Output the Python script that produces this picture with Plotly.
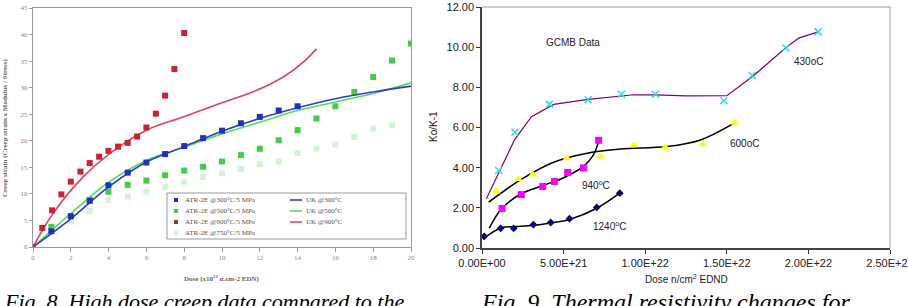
import plotly.graph_objects as go

W, H = 908, 306
def px(x): return x / W
def py(y): return 1 - y / H

# ---------------- Fig. 8 data (dose x10^21, creep strain) ----------------
red_x = [0, 0.49, 1.01, 1.5, 2.0, 2.51, 3.0, 3.5, 3.99, 4.5, 5.01, 5.51, 6.0, 6.5, 6.99, 7.48, 8.0]
red_y = [0, 3.6, 6.9, 9.9, 12.3, 14.2, 15.8, 17.0, 18.1, 18.9, 19.6, 20.8, 22.5, 25.1, 28.5, 33.5, 40.3]
blue_x = [0, 0.97, 2.0, 3.0, 3.99, 5.01, 6.0, 6.99, 8.0, 9.0, 10.0, 11.0, 12.0, 13.0, 14.0]
blue_y = [0, 2.95, 5.8, 8.7, 11.6, 14.0, 15.9, 17.5, 19.0, 20.5, 21.9, 23.3, 24.5, 25.7, 26.5]
green_x = [0, 0.97, 3.0, 3.99, 5.01, 6.0, 6.99, 8.0, 9.0, 10.0, 11.0, 12.0, 13.0, 14.0, 15.0, 16.0, 17.0, 18.0, 19.0, 20.0]
green_y = [0, 3.8, 8.9, 10.4, 11.7, 12.5, 13.5, 14.4, 15.1, 16.1, 17.3, 18.5, 20.1, 22.0, 24.2, 26.5, 29.2, 32.0, 35.1, 38.3]
pale_x = [0, 2.0, 3.0, 3.99, 5.01, 6.0, 6.99, 8.0, 9.0, 10.0, 11.0, 12.0, 13.0, 14.0, 15.0, 16.0, 17.0, 18.0, 19.0]
pale_y = [0, 4.8, 6.8, 8.8, 9.5, 10.4, 11.3, 12.2, 13.2, 13.9, 14.7, 15.6, 16.1, 17.7, 18.5, 19.3, 20.7, 22.3, 22.9]
uk900_x = [0, 1.06, 2.65, 4.06, 6.0, 7.94, 9.88, 11.83, 13.24, 14.3, 15.0]
uk900_y = [0, 6.3, 13.2, 17.6, 22.0, 24.5, 27.0, 29.5, 32.0, 34.8, 37.3]
uk300_x = [0, 2, 4, 6, 8, 10, 12, 14, 16, 18, 20]
uk300_y = [0, 5.3, 11.3, 16.0, 18.9, 21.8, 24.2, 26.2, 27.9, 29.2, 30.3]
uk500_x = [0, 2, 4, 6, 8, 10, 12, 14, 16, 18, 20]
uk500_y = [0, 6.3, 12.2, 16.3, 18.8, 21.3, 23.5, 25.7, 27.3, 28.9, 30.9]
f8_xticks = list(range(0, 21, 2))
f8_yticks = list(range(0, 46, 5))

# ---------------- Fig. 9 data (dose n/cm2, Ko/K-1) ----------------
c430_x = [1.02e21, 2.02e21, 4.13e21, 6.50e21, 8.54e21, 1.063e22, 1.482e22, 1.656e22, 1.862e22, 2.06e22]
c430_y = [3.86, 5.76, 7.15, 7.38, 7.66, 7.66, 7.33, 8.59, 9.96, 10.76]
l430_x = [0.27e21, 2.0e21, 3.03e21, 4.4e21, 6.5e21, 8.5e21, 9.3e21, 1.06e22, 1.25e22, 1.5e22, 1.66e22, 1.78e22, 1.86e22, 1.94e22, 2.06e22]
l430_y = [2.45, 5.4, 6.54, 7.15, 7.40, 7.58, 7.63, 7.62, 7.57, 7.58, 8.55, 9.4, 9.96, 10.45, 10.76]
c600_x = [0.88e21, 2.23e21, 3.11e21, 5.21e21, 7.28e21, 9.32e21, 1.122e22, 1.353e22, 1.55e22]
c600_y = [2.81, 3.44, 3.66, 4.47, 4.55, 5.11, 5.02, 5.18, 6.24]
l600_x = [0.41e21, 2.35e21, 4.39e21, 6.44e21, 8.48e21, 1.134e22, 1.339e22, 1.55e22]
l600_y = [2.28, 3.39, 4.27, 4.72, 4.93, 5.05, 5.38, 6.24]
c940_x = [1.23e21, 2.41e21, 3.72e21, 4.44e21, 5.25e21, 6.21e21, 7.15e21]
c940_y = [1.97, 2.66, 3.06, 3.31, 3.76, 3.99, 5.36]
l940_x = [0.45e21, 1.2e21, 2.4e21, 3.7e21, 5.0e21, 6.2e21, 6.8e21, 7.15e21]
l940_y = [0.99, 1.95, 2.7, 3.1, 3.5, 4.05, 4.6, 5.3]
c1240_x = [0.14e21, 1.14e21, 1.94e21, 3.15e21, 4.21e21, 5.36e21, 7.03e21, 8.44e21]
c1240_y = [0.58, 0.98, 0.98, 1.16, 1.27, 1.46, 2.02, 2.73]
l1240_x = [0.06e21, 1.14e21, 1.94e21, 3.15e21, 4.21e21, 5.36e21, 7.03e21, 8.44e21]
l1240_y = [0.45, 1.0, 1.06, 1.13, 1.25, 1.42, 1.98, 2.73]
f9_xticks = [0, 5e21, 1e22, 1.5e22, 2e22, 2.5e22]
f9_yticks = [0, 2, 4, 6, 8, 10, 12]

fig = go.Figure()

# ----- Fig 8 traces -----
def sq(x, y, c):
    fig.add_trace(go.Scatter(x=x, y=y, mode='markers', xaxis='x', yaxis='y', showlegend=False,
                             marker=dict(symbol='square', size=6, color=c)))
def ln(x, y, c, ax='x', ay='y', w=1.6, shape='spline'):
    fig.add_trace(go.Scatter(x=x, y=y, mode='lines', xaxis=ax, yaxis=ay, showlegend=False,
                             line=dict(color=c, width=w, shape=shape)))

sq(pale_x, pale_y, '#d4f2d4')
sq(green_x, green_y, '#44cc44')
ln(uk500_x, uk500_y, '#55dd55')
ln(uk300_x, uk300_y, '#2a3fcc')
ln(uk900_x, uk900_y, '#dd4466')
sq(blue_x, blue_y, '#1f2fbf')
sq(red_x, red_y, '#cc2233')

# ----- Fig 9 traces -----
ln(l430_x, l430_y, '#800080', 'x2', 'y2', 1.2, 'linear')
ln(l600_x, l600_y, '#000000', 'x2', 'y2', 1.5)
ln(l940_x, l940_y, '#000000', 'x2', 'y2', 1.5)
ln(l1240_x, l1240_y, '#000000', 'x2', 'y2', 1.5)
fig.add_trace(go.Scatter(x=c430_x, y=c430_y, mode='markers', xaxis='x2', yaxis='y2', showlegend=False,
                         marker=dict(symbol='x-thin', size=7, line=dict(color='#22ddee', width=1.5))))
fig.add_trace(go.Scatter(x=c600_x, y=c600_y, mode='markers', xaxis='x2', yaxis='y2', showlegend=False,
                         marker=dict(symbol='triangle-up', size=8, color='#ffff00')))
fig.add_trace(go.Scatter(x=c940_x, y=c940_y, mode='markers', xaxis='x2', yaxis='y2', showlegend=False,
                         marker=dict(symbol='square', size=7, color='#ff00ff')))
fig.add_trace(go.Scatter(x=c1240_x, y=c1240_y, mode='markers', xaxis='x2', yaxis='y2', showlegend=False,
                         marker=dict(symbol='diamond', size=6, color='#000080')))

serif = 'Liberation Serif'
sans = 'Liberation Sans'
gray = '#999999'

fig.update_layout(
    width=W, height=H, margin=dict(l=0, r=0, t=0, b=0, autoexpand=False),
    paper_bgcolor='white', plot_bgcolor='white', showlegend=False,
    xaxis=dict(domain=[px(33), px(411)], range=[0, 20], tickvals=f8_xticks, automargin=False,
               ticks='outside', ticklen=4, tickcolor=gray, showline=True, linecolor=gray, mirror=True,
               showgrid=False, zeroline=False, tickfont=dict(family=serif, size=7, color='#888')),
    yaxis=dict(domain=[py(247), py(8)], range=[0, 45], tickvals=f8_yticks, automargin=False,
               ticks='outside', ticklen=3, tickcolor=gray, showline=True, linecolor=gray, mirror=True,
               showgrid=False, zeroline=False, tickfont=dict(family=serif, size=7, color='#888')),
    xaxis2=dict(domain=[px(482), px(890)], range=[0, 2.5e22], tickvals=f9_xticks, automargin=False,
                ticktext=[f"{v:.2E}" for v in f9_xticks], anchor='y2', ticklabeloverflow='allow',
                ticks='outside', ticklen=4, tickcolor='#333', showline=True, linecolor='#444', linewidth=1.5,
                showgrid=False, zeroline=False, tickfont=dict(family=sans, size=11, color='#222')),
    yaxis2=dict(domain=[py(248), py(7)], range=[0, 12], tickvals=f9_yticks, tickformat='.2f', anchor='x2',
                ticklabeloverflow='allow', automargin=False,
                ticks='outside', ticklen=4, tickcolor='#333', showline=True, linecolor='#444', linewidth=1.5,
                showgrid=False, zeroline=False, tickfont=dict(family=sans, size=11, color='#222')),
)

shapes = []
# Fig 9 gray frame (top & right)
shapes.append(dict(type='line', xref='paper', yref='paper', x0=px(482), x1=px(890), y0=py(7), y1=py(7),
                   line=dict(color='#999', width=1)))
shapes.append(dict(type='line', xref='paper', yref='paper', x0=px(890), x1=px(890), y0=py(7), y1=py(248),
                   line=dict(color='#999', width=1)))
# Fig 8 legend box
shapes.append(dict(type='rect', xref='paper', yref='paper', x0=px(167), x1=px(406), y0=py(239), y1=py(193),
                   line=dict(color='#999', width=1), fillcolor='white', layer='below'))

ann = []
leg_markers = [('#1f2fbf', 'ATR-2E @300°C/5 MPa'), ('#44cc44', 'ATR-2E @500°C/5 MPa'),
               ('#cc2233', 'ATR-2E @900°C/5 MPa'), ('#d4f2d4', 'ATR-2E @750°C/5 MPa')]
leg_lines = [('#2a3fcc', 'UK @300°C'), ('#55dd55', 'UK @500°C'), ('#dd4466', 'UK @900°C')]
rows = [200, 211, 222, 233]
for (c, t), r in zip(leg_markers, rows):
    shapes.append(dict(type='rect', xref='paper', yref='paper', x0=px(174), x1=px(178), y0=py(r + 2), y1=py(r - 2),
                       fillcolor=c, line=dict(width=0)))
    ann.append(dict(xref='paper', yref='paper', x=px(183), y=py(r), xanchor='left', yanchor='middle',
                    text=t, showarrow=False, font=dict(family=serif, size=7, color='#555')))
for (c, t), r in zip(leg_lines, rows):
    shapes.append(dict(type='line', xref='paper', yref='paper', x0=px(290), x1=px(302), y0=py(r), y1=py(r),
                       line=dict(color=c, width=1.6)))
    ann.append(dict(xref='paper', yref='paper', x=px(304), y=py(r), xanchor='left', yanchor='middle',
                    text=t, showarrow=False, font=dict(family=serif, size=7, color='#555')))

# Fig 8 axis titles
ann.append(dict(xref='paper', yref='paper', x=px(5), y=py(128), textangle=-90, xanchor='center', yanchor='middle',
                text='<b>Creep strain (Creep strain x Modulus / Stress)</b>', showarrow=False,
                font=dict(family=serif, size=7, color='#666')))
ann.append(dict(xref='paper', yref='paper', x=px(222), y=py(278), xanchor='center', yanchor='middle',
                text='<b>Dose (x10<sup>21</sup> n.cm-2 EDN)</b>', showarrow=False,
                font=dict(family=serif, size=7, color='#666')))
# Fig 9 axis titles
ann.append(dict(xref='paper', yref='paper', x=px(433), y=py(127), textangle=-90, xanchor='center', yanchor='middle',
                text='Ko/K-1', showarrow=False, font=dict(family=sans, size=10, color='#222')))
ann.append(dict(xref='paper', yref='paper', x=px(686), y=py(279), xanchor='center', yanchor='middle',
                text='Dose n/cm<sup>2</sup> EDND', showarrow=False, font=dict(family=sans, size=10, color='#222')))
# Fig 9 labels
for x, y, t in [(5.6e21, 10.23, 'GCMB Data'), (2.0e22, 9.3, '430oC'), (1.61e22, 5.2, '600oC'),
                (7.0e21, 3.14, '940<sup>o</sup>C'), (7.8e21, 1.08, '1240<sup>o</sup>C')]:
    ann.append(dict(xref='x2', yref='y2', x=x, y=y, text=t, showarrow=False, xanchor='center', yanchor='middle',
                    font=dict(family=sans, size=10, color='#222')))
# Captions
ann.append(dict(xref='paper', yref='paper', x=px(2), y=py(287), xanchor='left', yanchor='top',
                text='<i>Fig. 8. High dose creep data compared to the</i>', showarrow=False,
                font=dict(family=serif, size=22, color='#000')))
ann.append(dict(xref='paper', yref='paper', x=px(479), y=py(287), xanchor='left', yanchor='top',
                text='<i>Fig. 9. Thermal resistivity changes for</i>', showarrow=False,
                font=dict(family=serif, size=24, color='#000')))

fig.update_layout(shapes=shapes, annotations=ann)
fig.write_html("out.html")
